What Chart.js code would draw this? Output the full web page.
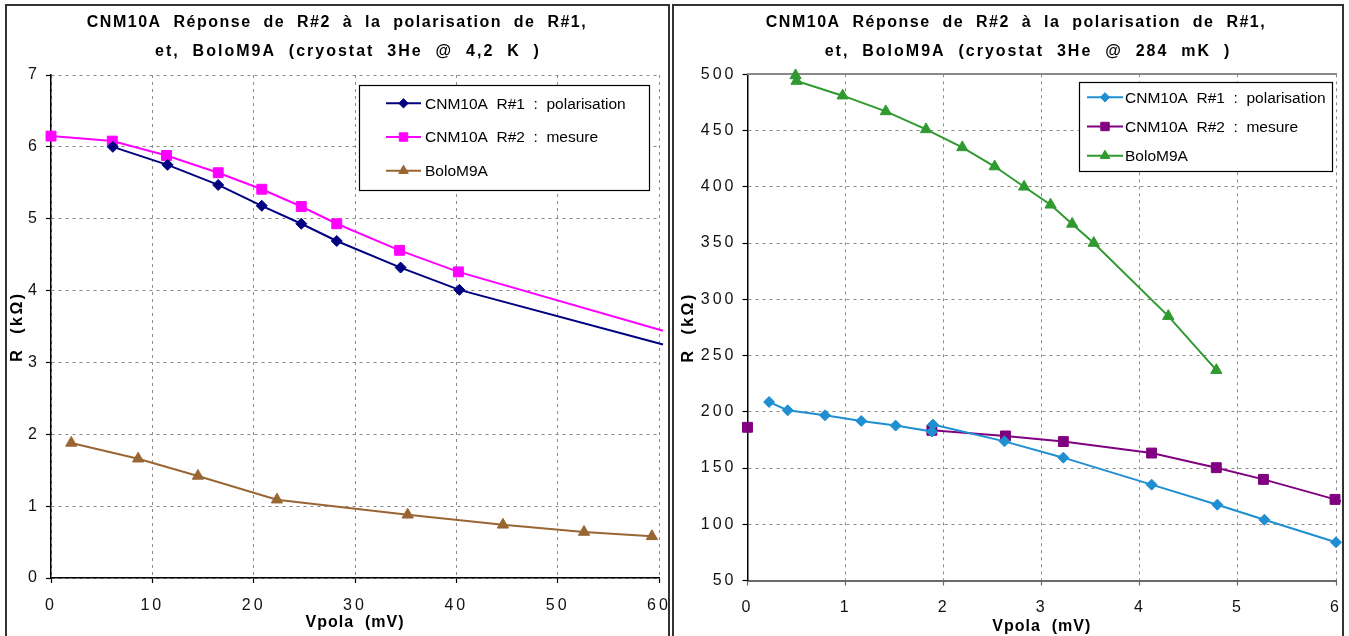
<!DOCTYPE html>
<html>
<head>
<meta charset="utf-8">
<script src="https://cdn.jsdelivr.net/npm/chart.js@4/dist/chart.umd.min.js"></script>
<style>
html,body{margin:0;padding:0;background:#fff;width:1349px;height:636px;overflow:hidden;}
canvas{position:absolute;top:0;}
.frame{position:absolute;box-sizing:border-box;border:2px solid #333;border-bottom:none;pointer-events:none;}
</style>
</head>
<body>
<canvas id="c1" width="670" height="636" style="left:0px"></canvas>
<canvas id="c2" width="678" height="636" style="left:671px"></canvas>
<div class="frame" style="left:5px;top:4px;width:665px;height:640px"></div>
<div class="frame" style="left:672px;top:4px;width:672px;height:640px"></div>
<script>
// ---------------- DATA ----------------
const leftTitle = ["CNM10A  Réponse  de  R#2  à  la  polarisation  de  R#1,", "et,  BoloM9A  (cryostat  3He  @  4,2  K  )"];
const rightTitle = ["CNM10A  Réponse  de  R#2  à  la  polarisation  de  R#1,", "et,  BoloM9A  (cryostat  3He  @  284  mK  )"];
const seriesLabels = ["CNM10A  R#1  :  polarisation", "CNM10A  R#2  :  mesure", "BoloM9A"];
const xTitle = "Vpola  (mV)";
const yTitle = "R  (kΩ)";

// Left chart (cryostat 3He @ 4,2 K) : R (kOhm) vs Vpola (mV)
const leftX_R1 = [6.1, 11.5, 16.5, 20.8, 24.7, 28.2, 34.5, 40.3, 60.4];
const leftY_R1 = [6.00, 5.75, 5.47, 5.18, 4.93, 4.69, 4.32, 4.01, 3.25];
const leftX_R2 = [0.0, 6.05, 11.4, 16.5, 20.8, 24.7, 28.2, 34.4, 40.2, 60.4];
const leftY_R2 = [6.15, 6.08, 5.88, 5.64, 5.41, 5.17, 4.93, 4.56, 4.26, 3.44];
const leftX_Bolo = [2.0, 8.6, 14.5, 22.3, 35.2, 44.6, 52.6, 59.3];
const leftY_Bolo = [1.88, 1.66, 1.42, 1.09, 0.88, 0.74, 0.64, 0.58];

// Right chart (cryostat 3He @ 284 mK)
const rightX_R1 = [0.22, 0.41, 0.79, 1.16, 1.51, 1.88, 1.89, 2.62, 3.22, 4.12, 4.79, 5.27, 6.0];
const rightY_R1 = [208.7, 201.3, 196.9, 191.8, 187.7, 182.4, 188.6, 173.7, 159.2, 135.2, 117.4, 104.0, 84.0];
const rightX_R2 = [0.0, null, 1.88, 2.63, 3.22, 4.12, 4.78, 5.26, 5.99, 6.05];
const rightY_R2 = [186.2, null, 183.5, 178.5, 173.5, 163.3, 150.3, 139.9, 122.1, 120.5];
const rightX_Bolo = [0.49, 0.50, 0.97, 1.41, 1.82, 2.19, 2.52, 2.82, 3.09, 3.31, 3.53, 4.29, 4.78];
const rightY_Bolo = [499, 494, 481, 467, 451, 435, 418, 400, 384, 367, 350, 285, 237];

const leftXTicks = {min: 0, max: 60, step: 10};
const leftYTicks = {min: 0, max: 7, step: 1};
const rightXTicks = {min: 0, max: 6, step: 1};
const rightYTicks = {min: 50, max: 500, step: 50};

// ---------------- HELPERS ----------------
const FONT = "'Liberation Sans', Arial, Helvetica, sans-serif";
const pts = (xs, ys) => xs.map((x, i) => ({x: x, y: ys[i]}));

// letter-spaced tick labels and axis titles (as in the reference)
(function patchScale(){
  const Lin = (Chart.LinearScale) || Chart.registry.getScale('linear');
  const P = Lin.prototype;
  const wrap = (name, getter) => {
    const orig = P[name];
    P[name] = function(){
      const ctx = this.ctx;
      ctx.save();
      try { ctx.letterSpacing = getter(this.options) || '0px'; } catch(e) {}
      orig.apply(this, arguments);
      ctx.restore();
    };
  };
  wrap('drawLabels', o => o.ticks.spacing);
  wrap('drawTitle', o => o.title.spacing);
})();

function drawMarker(ctx, style, x, y, r, color){
  ctx.save();
  ctx.fillStyle = color; ctx.strokeStyle = color; ctx.lineWidth = 1;
  ctx.beginPath();
  if (style === 'rectRot') {
    ctx.moveTo(x, y - r); ctx.lineTo(x + r, y); ctx.lineTo(x, y + r); ctx.lineTo(x - r, y);
  } else if (style === 'rect') {
    const s = r * Math.SQRT1_2;
    ctx.rect(x - s, y - s, 2 * s, 2 * s);
  } else {
    ctx.moveTo(x, y - r); ctx.lineTo(x + 0.866 * r, y + 0.5 * r); ctx.lineTo(x - 0.866 * r, y + 0.5 * r);
  }
  ctx.closePath(); ctx.fill(); ctx.stroke();
  ctx.restore();
}

const decor = {
  id: 'decor',
  afterDraw(chart, args, o) {
    const ctx = chart.ctx;
    ctx.save();
    ctx.font = 'bold 16px ' + FONT;
    ctx.fillStyle = '#000';
    ctx.textAlign = 'center'; ctx.textBaseline = 'middle';
    o.title.forEach((t, i) => {
      try { ctx.letterSpacing = o.titleSpacing[i]; } catch(e) {}
      ctx.fillText(t, o.titleX[i], o.titleY[i]);
    });
    try { ctx.letterSpacing = '0px'; } catch(e) {}
    const L = o.legend;
    ctx.fillStyle = '#fff'; ctx.fillRect(L.x, L.y, L.w, L.h);
    ctx.strokeStyle = '#000'; ctx.lineWidth = 1.2; ctx.strokeRect(L.x + 0.5, L.y + 0.5, L.w, L.h);
    ctx.font = '15.5px ' + FONT; ctx.textAlign = 'left'; ctx.textBaseline = 'middle';
    chart.data.datasets.forEach((ds, i) => {
      const y = L.y + L.row0 + i * L.rowH;
      ctx.strokeStyle = ds.borderColor; ctx.lineWidth = 2;
      ctx.beginPath(); ctx.moveTo(L.x + L.sx0, y); ctx.lineTo(L.x + L.sx1, y); ctx.stroke();
      drawMarker(ctx, ds.pointStyle, L.x + (L.sx0 + L.sx1) / 2, y, ds.legendR, ds.borderColor);
      ctx.fillStyle = '#000';
      ctx.fillText(ds.label, L.x + L.tx, y + 1);
    });
    ctx.restore();
  }
};

function ds(label, xs, ys, color, style, r, unmarkedEnd){
  return {
    label: label, data: pts(xs, ys), borderColor: color, backgroundColor: color,
    pointStyle: style, pointBorderColor: color, pointBackgroundColor: color, pointBorderWidth: 1,
    pointRadius: (c) => (unmarkedEnd && c.dataIndex === xs.length - 1) ? 0 : r,
    legendR: r * 0.85,
    borderWidth: 2, tension: 0, spanGaps: false, clip: false
  };
}

function makeChart(id, datasets, xt, yt, geo){
  return new Chart(document.getElementById(id), {
    type: 'line',
    data: {datasets: datasets},
    options: {
      responsive: false, animation: false, events: [],
      layout: {padding: {left: 0, right: geo.padRight, top: geo.padTop, bottom: 0}},
      plugins: {legend: {display: false}, title: {display: false}, tooltip: {enabled: false}, decor: geo.decor},
      scales: {
        x: {
          type: 'linear', position: 'bottom', min: xt.min, max: xt.max,
          ticks: {stepSize: xt.step, color: '#111', font: {family: FONT, size: 16}, padding: geo.xTickPad, maxRotation: 0, autoSkip: false, spacing: '3px'},
          grid: {color: '#8a8a8a', lineWidth: 1, tickColor: geo.xAxisColor, tickLength: 5, tickWidth: 1.2, tickBorderDash: []},
          border: {display: true, color: geo.xAxisColor, width: geo.xAxisWidth, dash: [3, 4]},
          title: {display: true, text: xTitle, color: '#000', font: {family: FONT, size: 16, weight: 'bold'}, padding: {top: 0, bottom: geo.xTitlePad}, spacing: '1px'},
          afterFit: (s) => { s.height = geo.xAxisH; s.paddingLeft = 0; s.paddingRight = 0; }
        },
        y: {
          type: 'linear', position: 'left', min: yt.min, max: yt.max,
          ticks: {stepSize: yt.step, color: '#111', font: {family: FONT, size: 16}, padding: 6, spacing: '3px'},
          grid: {color: '#8a8a8a', lineWidth: 1, tickColor: '#000', tickLength: 5, tickWidth: 1.2, tickBorderDash: []},
          border: {display: true, color: '#000', width: 1.5, dash: [3, 4]},
          title: {display: true, text: yTitle, color: '#000', font: {family: FONT, size: 16, weight: 'bold'}, padding: {top: 8, bottom: 0}, spacing: '2.5px'},
          afterFit: (s) => { s.width = geo.yAxisW; s.paddingTop = 0; s.paddingBottom = 0; }
        },
        ...(geo.topLine ? {x2: {
          type: 'linear', position: 'top', display: true,
          ticks: {display: false},
          grid: {drawOnChartArea: false, drawTicks: false},
          border: {display: true, color: '#8a8a8a', width: 2},
          afterFit: (s) => { s.height = 0; s.paddingLeft = 0; s.paddingRight = 0; }
        }} : {})
      }
    },
    plugins: [decor]
  });
}

makeChart('c1', [
  ds(seriesLabels[0], leftX_R1, leftY_R1, '#000080', 'rectRot', 5.5, true),
  ds(seriesLabels[1], leftX_R2, leftY_R2, '#ff00ff', 'rect', 7, true),
  ds(seriesLabels[2], leftX_Bolo, leftY_Bolo, '#996633', 'triangle', 6.5, false)
], leftXTicks, leftYTicks, {
  padRight: 11, padTop: 75, xTickPad: 13, xTitlePad: 4, xAxisH: 58, yAxisW: 51,
  xAxisColor: '#000', xAxisWidth: 1.5, topLine: false,
  decor: {title: leftTitle, titleX: [337, 348], titleY: [22.5, 51.5], titleSpacing: ['1.5px', '2px'],
    legend: {x: 359, y: 85, w: 290, h: 105, row0: 18.3, rowH: 33.7, sx0: 27, sx1: 62, tx: 66}}
});

makeChart('c2', [
  ds(seriesLabels[0], rightX_R1, rightY_R1, '#1f8fd2', 'rectRot', 5.5, false),
  ds(seriesLabels[1], rightX_R2, rightY_R2, '#800080', 'rect', 7, true),
  ds(seriesLabels[2], rightX_Bolo, rightY_Bolo, '#2f9a2f', 'triangle', 6.5, false)
], rightXTicks, rightYTicks, {
  padRight: 13, padTop: 74.3, xTickPad: 12, xTitlePad: 0, xAxisH: 55.5, yAxisW: 76.5,
  xAxisColor: '#6a6a6a', xAxisWidth: 2, topLine: true,
  decor: {title: rightTitle, titleX: [345, 357], titleY: [22.5, 51.5], titleSpacing: ['1.5px', '2px'],
    legend: {x: 408, y: 82, w: 253, h: 89, row0: 15.3, rowH: 29.2, sx0: 8, sx1: 44, tx: 46}}
});
</script>
</body>
</html>
